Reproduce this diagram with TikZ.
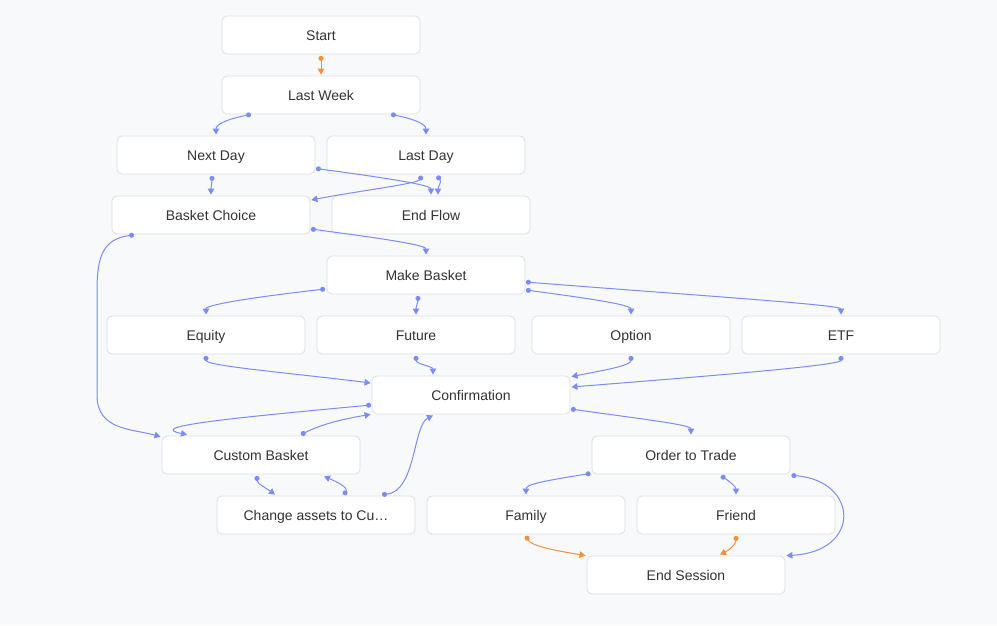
\documentclass[tikz,border=0pt]{standalone}
\usepackage{fontspec}
\setmainfont{Liberation Sans}
\usetikzlibrary{arrows.meta}
\definecolor{bgc}{HTML}{F8F9FA}
\definecolor{boxline}{HTML}{DCDFE4}
\definecolor{txt}{HTML}{333333}
\definecolor{flowblue}{HTML}{7A8CF5}
\definecolor{floworange}{HTML}{F78E3A}
\begin{document}
\begin{tikzpicture}[x=1pt, y=-1pt,
	box/.style={draw=boxline, fill=white, line width=0.8pt, rounded corners=5pt,
		minimum width=198pt, minimum height=38pt, text=txt, text height=12.5pt, text depth=1.5pt,
		font=\fontsize{14}{17}\selectfont},
	flow/.style={draw=flowblue, line width=1pt, {Circle[length=5pt]}-{Triangle[length=6pt,width=6.5pt]}},
	flowo/.style={flow, draw=floworange}]
	\useasboundingbox[fill=bgc] (0,0) rectangle (997,625);
	% boxes
	\node[box] (start) at (321,35) {Start};
	\node[box] (lweek) at (321,95) {Last Week};
	\node[box] (nday) at (216,155) {Next Day};
	\node[box] (lday) at (426,155) {Last Day};
	\node[box] (bchoice) at (211,215) {Basket Choice};
	\node[box] (endflow) at (431,215) {End Flow};
	\node[box] (mbasket) at (426,275) {Make Basket};
	\node[box] (equity) at (206,335) {Equity};
	\node[box] (future) at (416,335) {Future};
	\node[box] (option) at (631,335) {Option};
	\node[box] (etf) at (841,335) {ETF};
	\node[box] (confirm) at (471,395) {Confirmation};
	\node[box] (custom) at (261,455) {Custom Basket};
	\node[box] (order) at (691,455) {Order to Trade};
	\node[box] (change) at (316,515) {Change assets to Cu…};
	\node[box] (family) at (526,515) {Family};
	\node[box] (friend) at (736,515) {Friend};
	\node[box] (endsess) at (686,575) {End Session};
	
	% links
	\draw[flowo] ([yshift=-1.5pt]start.south) -- ([yshift=1pt]lweek.north);
	\draw[flow] ([xshift=-70pt,yshift=0pt]lweek.south) .. controls +(-25,5) and +(0,-10) .. ([yshift=1pt]nday.north);
	\draw[flow] ([xshift=70pt,yshift=0pt]lweek.south) .. controls +(25,5) and +(0,-10) .. ([yshift=1pt]lday.north);
	\draw[flow] ([xshift=-4pt,yshift=-1.5pt]nday.south) .. controls +(0,8) and +(0,-8) .. ([yshift=1pt]bchoice.north);
	\draw[flow] ([xshift=0.5pt,yshift=-13.5pt]nday.east) .. controls +(60,8) and +(0,-10) .. ([yshift=1pt]endflow.north);
	\draw[flow] ([xshift=-4pt,yshift=-1.5pt]lday.south) .. controls +(-5,8) and +(40,-8) .. ([xshift=1pt,yshift=15pt]bchoice.east);
	\draw[flow] ([xshift=11pt,yshift=-1.5pt]lday.south) .. controls +(5,6) and +(0,-8) .. ([xshift=7pt,yshift=1pt]endflow.north);
	\draw[flow] ([xshift=0.5pt,yshift=-14pt]bchoice.east) .. controls +(60,8) and +(0,-10) .. ([yshift=1pt]mbasket.north);
	\draw[flow] ([xshift=-77pt,yshift=-0.5pt]bchoice.south) .. controls +(-30,4) and +(0,-35) .. (97,290)
		-- (97,395) .. controls +(0,35) and +(-30,-8) .. ([xshift=-1pt,yshift=-1pt]custom.north west);
	\draw[flow] ([xshift=-1.5pt,yshift=-14pt]mbasket.west) .. controls +(-70,8) and +(0,-10) .. ([yshift=1pt]equity.north);
	\draw[flow] ([xshift=-8pt,yshift=-1.5pt]mbasket.south) .. controls +(0,6) and +(0,-8) .. ([yshift=1pt]future.north);
	\draw[flow] ([xshift=0.5pt,yshift=-15pt]mbasket.east) .. controls +(60,8) and +(0,-10) .. ([yshift=1pt]option.north);
	\draw[flow] ([xshift=0.5pt,yshift=-7pt]mbasket.east) .. controls +(150,12) and +(0,-10) .. ([yshift=1pt]etf.north);
	\draw[flow] ([yshift=-1.5pt]equity.south) .. controls +(0,10) and +(-80,-10) .. ([xshift=-1pt,yshift=12pt]confirm.west);
	\draw[flow] ([yshift=-1.5pt]future.south) .. controls +(0,8) and +(0,-8) .. ([xshift=-38pt,yshift=1pt]confirm.north);
	\draw[flow] ([yshift=-1.5pt]option.south) .. controls +(0,10) and +(30,-6) .. ([xshift=1pt,yshift=-1pt]confirm.north east);
	\draw[flow] ([yshift=-1.5pt]etf.south) .. controls +(0,10) and +(100,-8) .. ([xshift=1pt,yshift=8pt]confirm.east);
	\draw[flow] ([xshift=-0.5pt,yshift=-10pt]confirm.west) .. controls +(-150,14) and +(-40,-8) .. ([xshift=-74pt,yshift=1pt]custom.north);
	\draw[flow] ([xshift=40pt,yshift=1pt]custom.north) .. controls +(20,-10) and +(-30,5) .. ([xshift=-1pt]confirm.south west);
	\draw[flow] ([xshift=0.5pt,yshift=-14pt]confirm.east) .. controls +(70,10) and +(0,-10) .. ([yshift=1pt]order.north);
	\draw[flow] ([xshift=-4pt,yshift=-1.5pt]custom.south) .. controls +(0,8) and +(-8,-6) .. ([xshift=-41pt,yshift=1pt]change.north);
	\draw[flow] ([xshift=28pt,yshift=0.5pt]change.north) .. controls +(4,-8) and +(12,5) .. ([xshift=63pt,yshift=-2pt]custom.south);
	\draw[flow] ([xshift=66pt,yshift=1pt]change.north) .. controls +(34,-3) and +(-20,10) .. ([xshift=-38pt,yshift=-1pt]confirm.south);
	\draw[flow] ([xshift=-1pt,yshift=1pt]order.south west) .. controls +(-50,8) and +(0,-10) .. ([yshift=1pt]family.north);
	\draw[flow] ([xshift=30pt,yshift=-1.5pt]order.south) .. controls +(8,5) and +(0,-8) .. ([yshift=1pt]friend.north);
	\draw[flow] ([xshift=1pt,yshift=-1pt]order.south east) .. controls +(67,5) and +(76,-4) .. ([xshift=1pt]endsess.north east);
	\draw[flowo] ([yshift=-1.5pt]family.south) .. controls +(5,10) and +(-30,-5) .. ([xshift=-1pt]endsess.north west);
	\draw[flowo] ([yshift=-1.5pt]friend.south) .. controls +(0,8) and +(10,-5) .. ([xshift=34pt,yshift=1pt]endsess.north);
\end{tikzpicture}
\end{document}
